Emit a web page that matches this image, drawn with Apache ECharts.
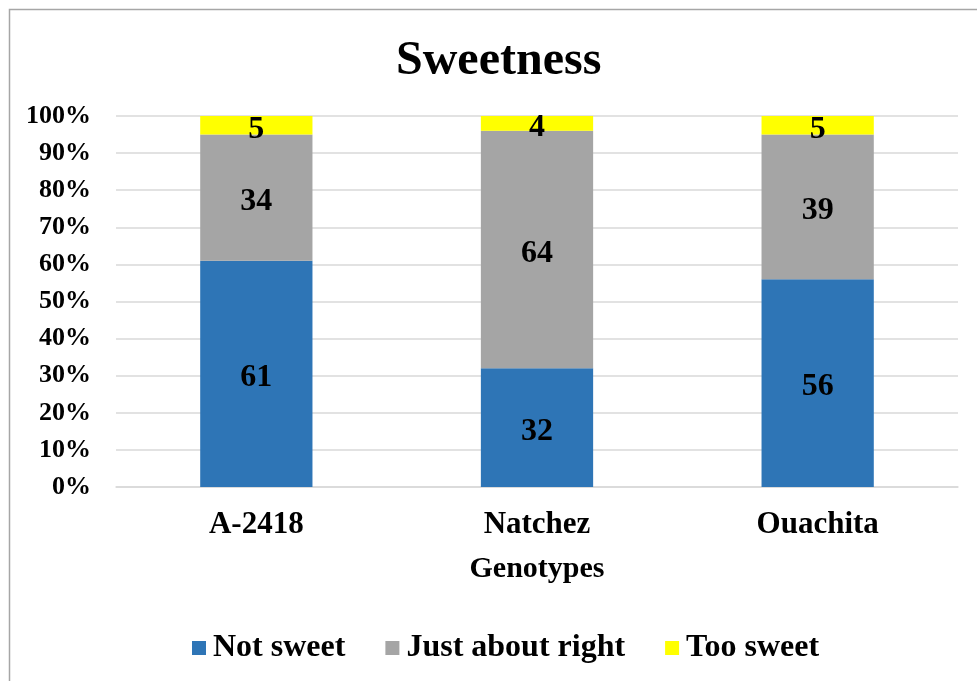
<!DOCTYPE html>
<html>
<head>
<meta charset="utf-8">
<script src="https://cdn.jsdelivr.net/npm/echarts@6/dist/echarts.min.js"></script>
<style>
html,body{margin:0;padding:0;background:#fff;}
#c{width:977px;height:681px;}
</style>
</head>
<body>
<div id="c"></div>
<script>
var categories = ['A-2418', 'Natchez', 'Ouachita'];
var notSweet = [61, 32, 56];
var justRight = [34, 64, 39];
var tooSweet = [5, 4, 5];
var yTicks = ['0%','10%','20%','30%','40%','50%','60%','70%','80%','90%','100%'];

var FONT = '"Liberation Serif", "Times New Roman", serif';
var chart = echarts.init(document.getElementById('c'));
function lbl(){
  return {show:true, position:'inside', offset:[0,4], color:'#000', fontFamily:FONT, fontWeight:'bold', fontSize:32};
}
chart.setOption({
  animation:false,
  graphic:[{type:'rect', shape:{x:9.5,y:9.5,width:970,height:680}, style:{fill:'none', stroke:'#A6A6A6', lineWidth:1.5}}],
  title:{text:'Sweetness', left:391, top:33, textStyle:{fontFamily:FONT, fontWeight:'bold', fontSize:48, color:'#000'}},
  grid:{left:116, right:19, top:116, bottom:194},
  legend:{top:627, left:187, itemWidth:14, itemHeight:14, itemGap:40,
    icon:'rect',
    textStyle:{fontFamily:FONT, fontWeight:'bold', fontSize:32, color:'#000', padding:[0,0,0,2]},
    data:['Not sweet','Just about right','Too sweet']},
  xAxis:{type:'category', data:categories,
    name:'Genotypes', nameLocation:'middle', nameGap:67,
    nameTextStyle:{fontFamily:FONT, fontWeight:'bold', fontSize:30, color:'#000'},
    axisLine:{lineStyle:{color:'#D9D9D9', width:1.5}}, axisTick:{show:false},
    axisLabel:{fontFamily:FONT, fontWeight:'bold', fontSize:31, color:'#000', margin:22}},
  yAxis:{type:'value', min:0, max:100, interval:10,
    axisLabel:{formatter:function(v){return yTicks[Math.round(v/10)];}, fontFamily:FONT, fontWeight:'bold', fontSize:26, color:'#000', margin:25},
    axisLine:{show:false}, axisTick:{show:false},
    splitLine:{lineStyle:{color:'#D9D9D9', width:1.5}}},
  series:[
    {name:'Not sweet', type:'bar', stack:'s', data:notSweet, barWidth:'40%', itemStyle:{color:'#2E75B6'}, label:lbl()},
    {name:'Just about right', type:'bar', stack:'s', data:justRight, itemStyle:{color:'#A5A5A5'}, label:lbl()},
    {name:'Too sweet', type:'bar', stack:'s', data:tooSweet, itemStyle:{color:'#FFFF00'}, label:lbl()}
  ]
});
</script>
</body>
</html>
